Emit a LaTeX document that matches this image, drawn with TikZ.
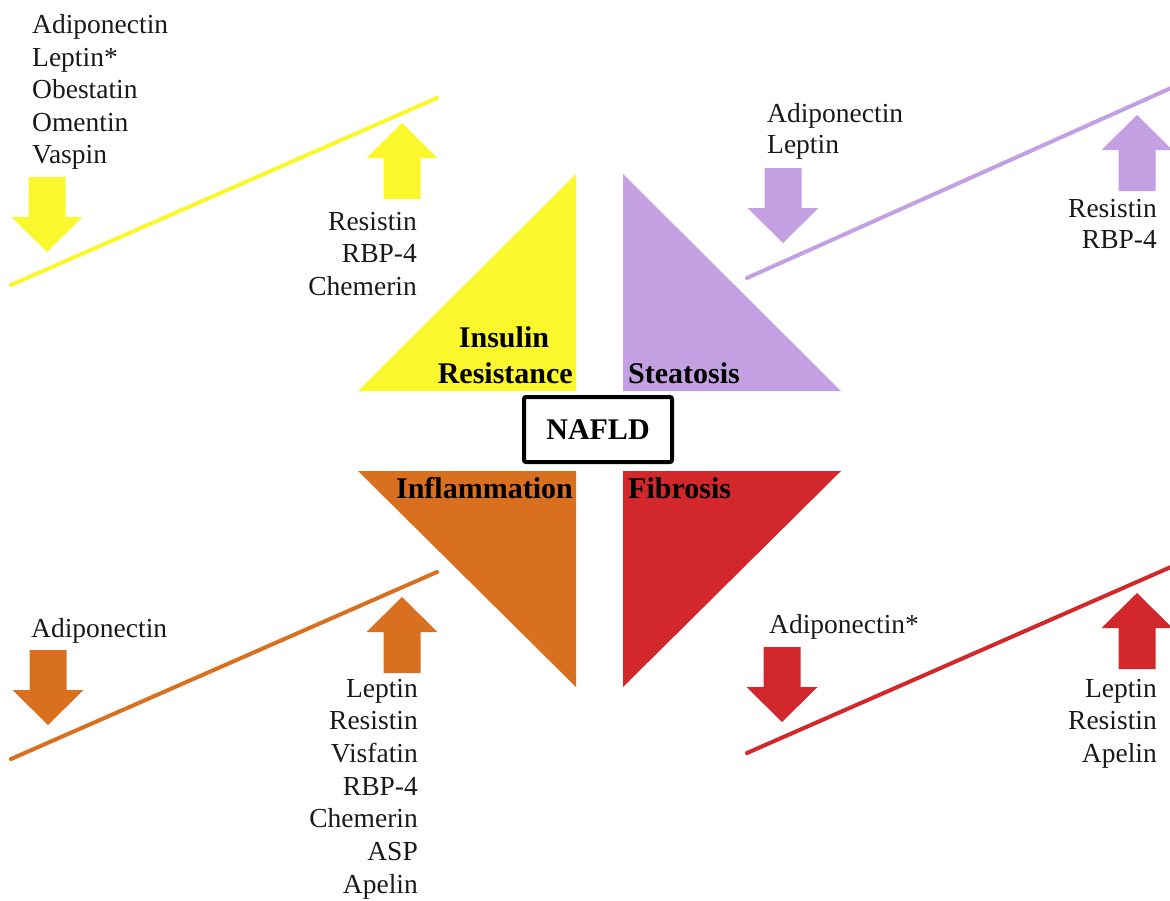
\documentclass[tikz,border=0pt]{standalone}
\usepackage{fontspec}
\setmainfont{Liberation Serif}
\definecolor{yel}{RGB}{250,247,45}
\definecolor{pur}{RGB}{194,160,226}
\definecolor{org}{RGB}{216,112,32}
\definecolor{rd}{RGB}{211,40,43}
\definecolor{ink}{RGB}{25,25,25}
\begin{document}
\begin{tikzpicture}[x=1pt,y=-1pt,
  lbl/.style={inner sep=0pt,font=\fontsize{27.5}{33}\selectfont,text=ink},
  ttl/.style={inner sep=0pt,font=\fontsize{30}{36}\selectfont\bfseries,text=black},
  slope/.style={line width=4pt,line cap=round},
  downarr/.pic={\fill (-18.5,-75) -- (18.5,-75) -- (18.5,-35) -- (35.5,-35) -- (0,0) -- (-35.5,-35) -- (-18.5,-35) -- cycle;},
  uparr/.pic={\fill (-18.5,76) -- (18.5,76) -- (18.5,35) -- (35.5,35) -- (0,0) -- (-35.5,35) -- (-18.5,35) -- cycle;}]
\useasboundingbox (0,0) rectangle (1170,900);
\clip (0,0) rectangle (1170,900);
% triangles
\fill[yel] (358,391) -- (576,391) -- (576,174) -- cycle;
\fill[pur] (623,174) -- (623,391) -- (841,391) -- cycle;
\fill[org] (358,471) -- (576,471) -- (576,687) -- cycle;
\fill[rd] (623,471) -- (841,471) -- (623,687) -- cycle;
% slopes
\coordinate (ys) at (11,285); \coordinate (ye) at (437,98);
\coordinate (ps) at (747,278); \coordinate (pe) at (1180,84);
\coordinate (os) at (11,759); \coordinate (oe) at (437,572);
\coordinate (rs) at (747,753); \coordinate (re) at (1180,563);
\draw[slope,yel] (ys) -- (ye);
\draw[slope,pur] (ps) -- (pe);
\draw[slope,org] (os) -- (oe);
\draw[slope,rd] (rs) -- (re);
% arrows
\pic[color=yel] at (47,252) {downarr};
\pic[color=yel] at (402,123) {uparr};
\pic[color=pur] at (783,243) {downarr};
\pic[color=pur] at (1137,115) {uparr};
\pic[color=org] at (48,725) {downarr};
\pic[color=org] at (402,597) {uparr};
\pic[color=rd] at (782,722) {downarr};
\pic[color=rd] at (1137,593) {uparr};
% yellow texts
\foreach \t [count=\i] in {Adiponectin,Leptin*,Obestatin,Omentin,Vaspin}
  \node[lbl,anchor=base west] (yl\i) at (32,{33.5+32.5*(\i-1)}) {\t};
\foreach \t [count=\i] in {Resistin,RBP-4,Chemerin}
  \node[lbl,anchor=base east] (yr\i) at (417,{230+32.5*(\i-1)}) {\t};
% purple texts
\foreach \t [count=\i] in {Adiponectin,Leptin}
  \node[lbl,anchor=base west] (pl\i) at (767,{122+31.5*(\i-1)}) {\t};
\foreach \t [count=\i] in {Resistin,RBP-4}
  \node[lbl,anchor=base east] (pr\i) at (1157,{217+31.5*(\i-1)}) {\t};
% orange texts
\node[lbl,anchor=base west] (ol1) at (31,637) {Adiponectin};
\foreach \t [count=\i] in {Leptin,Resistin,Visfatin,RBP-4,Chemerin,ASP,Apelin}
  \node[lbl,anchor=base east] (or\i) at (418,{697+32.67*(\i-1)}) {\t};
% red texts
\node[lbl,anchor=base west] (rl1) at (769,633) {Adiponectin*};
\foreach \t [count=\i] in {Leptin,Resistin,Apelin}
  \node[lbl,anchor=base east] (rr\i) at (1157,{697+32.5*(\i-1)}) {\t};
% titles
\node[ttl,anchor=base] (ins) at (504,347) {Insulin};
\node[ttl,anchor=base east] (res) at (573,383) {Resistance};
\node[ttl,anchor=base west] (ste) at (628,383) {Steatosis};
\node[ttl,anchor=base east] (inf) at (573,498) {Inflammation};
\node[ttl,anchor=base west] (fib) at (628,498) {Fibrosis};
\node[ttl,draw=black,line width=4pt,rounded corners=2pt,minimum width=148pt,minimum height=65pt] (nafld) at (598,429.5) {NAFLD};
\end{tikzpicture}
\end{document}
